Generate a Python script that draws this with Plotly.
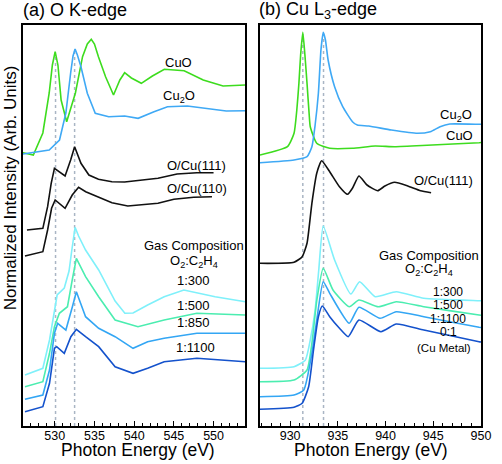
import plotly.graph_objects as go

# ---------------- Panel (a): O K-edge ----------------
cuo_a_E = [526, 527.3, 528.5, 529.3, 529.7, 530.05, 530.4, 530.8, 531.5, 532.6, 533.5, 534.1, 534.6, 535.0, 535.5, 536.4, 537.4, 538.2, 538.8, 539.65, 540.9, 542.3, 543.8, 546.3, 548.7, 551.2, 554]
cuo_a_I = [273.3, 271, 293, 333, 361, 374.3, 361, 326, 304.3, 333, 369.3, 382, 386.7, 382, 369.3, 349.3, 331, 346, 353.3, 348, 342.7, 350, 356.7, 355.3, 346, 340, 341]

cu2o_a_E = [526, 527.5, 529.3, 530.6, 531.4, 532.0, 532.3, 532.56, 532.85, 533.3, 534.1, 535.1, 536.8, 538.8, 540.5, 542.5, 544.2, 546.7, 549.1, 551.6, 554]
cu2o_a_I = [272, 274, 276, 286, 313, 353, 370, 377, 371, 359.3, 332.7, 312.7, 309.3, 310, 307.7, 314.3, 319.3, 320, 317.7, 315, 315.3]

ocu111_a_E = [526.5, 528.5, 529.1, 529.55, 529.96, 530.6, 531.3, 532.0, 532.5, 533.3, 534.3, 535.5, 537.2, 538.8, 540.5, 543, 545.4, 547.9, 550]
ocu111_a_I = [196, 197.7, 219.3, 242.7, 257.7, 254.3, 250, 266, 279.3, 262.7, 251, 246.7, 244.3, 244, 245.3, 247.7, 252, 253.3, 253.3]

ocu110_a_E = [526.25, 528.5, 529.1, 529.6, 530.05, 530.6, 531.3, 532.2, 533, 533.9, 535.5, 537.2, 539.2, 540.9, 543, 545, 547.5, 549.8]
ocu110_a_I = [170, 174.3, 196, 217.7, 226, 222.7, 217.7, 231, 238.7, 234.3, 229.3, 223.3, 220, 221, 222.7, 226.7, 228.7, 229.3]

g300_a_E = [526.25, 528.5, 529.34, 529.75, 530.3, 531.2, 531.8, 532.15, 532.56, 533.0, 533.88, 535.53, 536.36, 537.6, 538.83, 539.86, 541.7, 543.78, 546.26, 548, 550.2, 554]
g300_a_I = [51, 57.7, 86, 106, 131, 138, 155, 176, 198.7, 190, 176, 156, 143, 125, 112.7, 113, 121, 129.3, 136, 133, 129.3, 124.3]

g500_a_E = [526.25, 528.5, 529.34, 529.96, 530.58, 531.6, 532.2, 532.72, 533.88, 535.53, 537.6, 540.48, 543.78, 547.9, 554]
g500_a_I = [39.3, 44.3, 72.7, 99.3, 112.7, 119.3, 146, 167.7, 149.3, 129.3, 106, 99.3, 106, 112.7, 111]

g850_a_E = [526.25, 528.5, 529.34, 529.96, 530.37, 531.4, 532.22, 532.72, 533.88, 535.53, 537.6, 539.86, 541.7, 543.78, 547.9, 554]
g850_a_I = [26.7, 31, 56, 92.7, 102.7, 96, 119.3, 134.3, 109.3, 97.7, 89.3, 77.7, 84.3, 87.7, 92.7, 92.7]

g1100_a_E = [526.25, 528.5, 529.34, 529.96, 530.25, 531.2, 532.03, 532.72, 533.88, 535.53, 537.6, 539.86, 541.7, 543.78, 547.9, 554]
g1100_a_I = [14.3, 19.3, 42.7, 77.7, 79.3, 72.7, 89.3, 96.7, 89.3, 79.3, 59.3, 52.7, 57.7, 64.3, 67.7, 64.3]

ref_a_E = [530.1, 532.5]
ref_a_top = [372, 376]

# ---------------- Panel (b): Cu L3-edge ----------------
cuo_b_E = [926.84, 929.72, 930.41, 930.7, 930.92, 931.1, 931.33, 931.55, 931.77, 932.0, 932.11, 932.79, 934.15, 936.53, 938.91, 940.95, 944.36, 949.8, 950]
cuo_b_I = [271, 279.3, 292.7, 316, 342.7, 371, 393.7, 371, 342.7, 311, 299.3, 282.7, 277.7, 277.7, 280, 279.3, 280.7, 283.3, 283.5]

cu2o_b_E = [926.84, 930.41, 931.77, 932.28, 932.62, 932.96, 933.23, 933.47, 933.7, 933.98, 934.66, 935.51, 936.53, 937.04, 938.23, 940.61, 943.34, 944.69, 945.71, 946.73, 949.8, 950]
cu2o_b_I = [263.3, 266, 269.3, 279.3, 301, 332.7, 376, 393.7, 386, 366, 339.3, 319.3, 304.3, 301, 300, 296, 292.7, 294.3, 299.3, 302, 301.7, 301.7]

ocu111_b_E = [926.84, 930.41, 931.26, 931.77, 932.28, 932.79, 933.3, 934.15, 935.17, 936.02, 936.53, 937.21, 938.06, 939.18, 939.93, 940.95, 942.32, 943.67, 944.77]
ocu111_b_I = [162.7, 163.7, 169.3, 182.7, 222.7, 252.7, 265.3, 254.3, 239.3, 231.7, 237.7, 250, 241, 235.3, 240, 243.7, 240, 235.3, 233.3]

g300_b_E = [926.84, 930.41, 931.6, 932.11, 932.62, 933.0, 933.47, 934.66, 936.36, 937.28, 938.91, 941.12, 944.01, 949.8, 950]
g300_b_I = [57.7, 59.3, 66, 86, 116, 156, 200, 166, 132, 144.3, 129.3, 134.3, 127.7, 125.3, 125.2]

g500_b_E = [926.84, 930.41, 931.77, 932.28, 932.8, 933.47, 934.49, 936.19, 937.21, 939.25, 941.12, 944.01, 949.8, 950]
g500_b_I = [44.3, 46, 56, 82.7, 126, 157.7, 136, 119.3, 126, 119.3, 124.3, 119.3, 111, 110.8]

g1100_b_E = [926.84, 930.41, 931.43, 932.28, 932.79, 933.47, 934.15, 936.19, 937.21, 939.42, 941.12, 944.01, 949.8, 950]
g1100_b_I = [29.3, 31, 36, 72.7, 106, 144.3, 132.7, 102.7, 118.7, 107.7, 114.3, 109.3, 98.7, 98.5]

cu_b_E = [926.84, 930.41, 931.26, 931.94, 932.45, 932.96, 933.37, 934.15, 935.17, 936.09, 937.21, 939.52, 941.12, 944.01, 949.8, 950]
cu_b_I = [16.7, 18.7, 22.7, 39.3, 76, 109.3, 120, 109.3, 97.7, 89.3, 106, 94.3, 102, 96, 84.3, 84]

ref_b_E = [931.33, 933.5]
ref_b_top = [392, 392]

# colours
C_CUO = "#3ddc1e"
C_CU2O = "#3fa9f5"
C_BLACK = "#111111"
C_300 = "#7ff0fa"
C_500 = "#4bedb0"
C_850 = "#33a6f4"
C_1100 = "#1452cc"
C_0 = "#1452cc"
C_REF = "#a9b5c4"

FONT = "Liberation Sans, Arial, sans-serif"

fig = go.Figure()

def add(xs, ys, color, xa="x", ya="y", dash=None, width=1.6, spline=True):
    fig.add_trace(go.Scatter(
        x=xs, y=ys, mode="lines", xaxis=xa, yaxis=ya, showlegend=False, hoverinfo="skip",
        line=dict(color=color, width=width, dash=dash,
                  shape="spline" if spline else "linear", smoothing=0.5)))

# reference dotted lines
for e, t in zip(ref_a_E, ref_a_top):
    add([e, e], [0, t], C_REF, dash="dot", width=1.5, spline=False)
for e, t in zip(ref_b_E, ref_b_top):
    add([e, e], [0, t], C_REF, "x2", "y2", dash="dot", width=1.5, spline=False)

# panel a (noisy experimental data -> straight segments)
add(cuo_a_E, cuo_a_I, C_CUO, spline=False)
add(cu2o_a_E, cu2o_a_I, C_CU2O, spline=False)
add(ocu111_a_E, ocu111_a_I, C_BLACK, spline=False)
add(ocu110_a_E, ocu110_a_I, C_BLACK, spline=False)
add(g300_a_E, g300_a_I, C_300, spline=False)
add(g500_a_E, g500_a_I, C_500, spline=False)
add(g850_a_E, g850_a_I, C_850, spline=False)
add(g1100_a_E, g1100_a_I, C_1100, spline=False)

# panel b
add(cuo_b_E, cuo_b_I, C_CUO, "x2", "y2")
add(cu2o_b_E, cu2o_b_I, C_CU2O, "x2", "y2")
add(ocu111_b_E, ocu111_b_I, C_BLACK, "x2", "y2")
add(g300_b_E, g300_b_I, C_300, "x2", "y2")
add(g500_b_E, g500_b_I, C_500, "x2", "y2")
add(g1100_b_E, g1100_b_I, C_850, "x2", "y2")
add(cu_b_E, cu_b_I, C_0, "x2", "y2")

axis_common = dict(
    showline=True, linecolor="black", linewidth=1.6, mirror=True,
    ticks="inside", ticklen=5, tickwidth=1.2, tickcolor="black",
    showgrid=False, zeroline=False,
    tickfont=dict(family=FONT, size=12.5, color="black"),
    ticklabelstandoff=-3,
    minor=dict(ticks="inside", ticklen=3, tickwidth=1, tickcolor="black", dtick=1, showgrid=False),
    dtick=5,
)
yaxis_common = dict(
    showline=True, linecolor="black", linewidth=1.6, mirror=True,
    showticklabels=False, ticks="", showgrid=False, zeroline=False, range=[0, 401],
)

fig.update_layout(
    width=502, height=464,
    margin=dict(l=23, r=11, t=25, b=38),
    paper_bgcolor="white", plot_bgcolor="white",
    xaxis=dict(domain=[0, 0.4854], range=[526, 554], tick0=530, anchor="y", **axis_common),
    xaxis2=dict(domain=[0.5174, 1], range=[926.84, 950], tick0=930, anchor="y2", **axis_common),
    yaxis=dict(domain=[0, 1], anchor="x", **yaxis_common),
    yaxis2=dict(domain=[0, 1], anchor="x2", **yaxis_common),
    font=dict(family=FONT, color="black"),
)

ann = []
def lab(text, x, y, xref="x", yref="y", size=13, **kw):
    d = dict(text=text, x=x, y=y, xref=xref, yref=yref, showarrow=False,
             font=dict(family=FONT, size=size, color="black"))
    d.setdefault("xanchor", "center")
    d.setdefault("yanchor", "middle")
    d.update(kw)
    ann.append(d)

# panel a labels
lab("CuO", 545.6, 363.3)
lab("Cu<sub>2</sub>O", 545.6, 329.3)
lab("O/Cu(111)", 547.9, 261)
lab("O/Cu(110)", 547.9, 237.7)
lab("Gas Composition", 547.5, 180.3)
lab("O<sub>2</sub>:C<sub>2</sub>H<sub>4</sub>", 547.5, 165)
lab("1:300", 547.5, 145.3)
lab("1:500", 547.5, 121)
lab("1:850", 547.5, 103.3)
lab("1:1100", 547.7, 78.7)

# panel b labels
lab("Cu<sub>2</sub>O", 947.4, 311, "x2", "y2")
lab("CuO", 947.8, 291, "x2", "y2")
lab("O/Cu(111)", 946.05, 245.3, "x2", "y2")
lab("Gas Composition", 944.5, 171, "x2", "y2")
lab("O<sub>2</sub>:C<sub>2</sub>H<sub>4</sub>", 944.5, 156.5, "x2", "y2")
lab("1:300", 946.5, 134.3, "x2", "y2", size=12)
lab("1:500", 946.55, 121, "x2", "y2", size=12)
lab("1:1100", 946.55, 107.5, "x2", "y2", size=12)
lab("0:1", 946.55, 94, "x2", "y2", size=12)
lab("(Cu Metal)", 946.1, 77.7, "x2", "y2", size=11.5)

# titles
lab("(a) O K-edge", -0.004, 1.0374, "paper", "paper", size=18, xanchor="left")
lab("(b) Cu L<sub>3</sub>-edge", 0.5104, 1.0374, "paper", "paper", size=18, xanchor="left")
lab("Photon Energy (eV)", 0.252, -0.0599, "paper", "paper", size=17.5)
lab("Photon Energy (eV)", 0.759, -0.0599, "paper", "paper", size=17.5)
lab("Normalized Intensity (Arb. Units)", -0.0278, 0.5935, "paper", "paper", size=17, textangle=-90)

fig.update_layout(annotations=ann)
fig.write_html("out.html", config={"displayModeBar": False},
               post_script="document.body.style.margin='0';")
